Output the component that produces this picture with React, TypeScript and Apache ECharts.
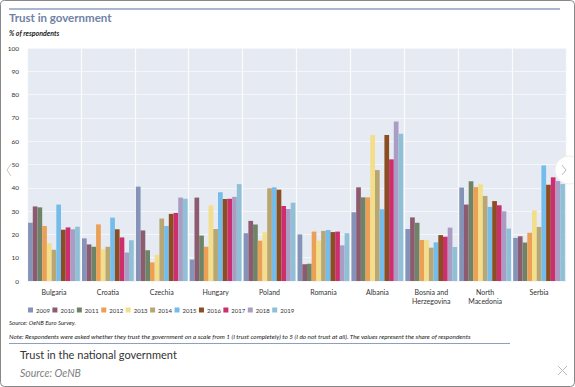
import React, { useEffect, useRef } from "react";
import * as echarts from "echarts";

const countries = [
  "Bulgaria",
  "Croatia",
  "Czechia",
  "Hungary",
  "Poland",
  "Romania",
  "Albania",
  "Bosnia and\nHerzegovina",
  "North\nMacedonia",
  "Serbia",
];

const years = ["2009", "2010", "2011", "2012", "2013", "2014", "2015", "2016", "2017", "2018", "2019"];

const yearColors = [
  "#8593b8",
  "#8d5b70",
  "#6e8466",
  "#eba055",
  "#f3de8a",
  "#b8a774",
  "#74bdea",
  "#8b4e22",
  "#cc2e6e",
  "#ab9cc4",
  "#8fc0d6",
];

// values per year, in country order
const v2009 = [25.0, 18.3, 40.5, 9.2, 20.5, 20.0, 29.5, 22.3, 40.1, 18.5];
const v2010 = [32.0, 15.7, 21.7, 35.8, 25.8, 7.2, 40.2, 27.3, 32.8, 19.2];
const v2011 = [31.6, 14.7, 13.2, 19.5, 24.2, 7.4, 35.9, 25.0, 42.8, 16.5];
const v2012 = [23.6, 24.3, 8.0, 14.7, 17.3, 21.2, 35.9, 17.6, 40.3, 20.7];
const v2013 = [16.2, 13.6, 11.2, 32.5, 20.9, 17.3, 62.7, 17.6, 41.5, 30.3];
const v2014 = [13.4, 14.7, 26.8, 22.3, 39.8, 21.5, 47.6, 14.3, 36.5, 23.2];
const v2015 = [32.8, 27.2, 23.6, 38.1, 40.2, 21.9, 30.8, 16.6, 31.8, 49.6];
const v2016 = [22.0, 22.2, 28.8, 35.2, 39.2, 21.0, 62.7, 19.7, 34.3, 41.3];
const v2017 = [23.0, 18.7, 29.2, 35.3, 32.2, 21.2, 52.2, 19.0, 32.5, 44.5];
const v2018 = [22.2, 12.2, 35.8, 36.1, 30.9, 15.3, 68.5, 22.9, 29.9, 42.9];
const v2019 = [23.3, 17.5, 35.3, 41.6, 33.6, 20.5, 63.2, 14.6, 22.5, 41.6];

const seriesValues = [v2009, v2010, v2011, v2012, v2013, v2014, v2015, v2016, v2017, v2018, v2019];

const yTicks = [0, 10, 20, 30, 40, 50, 60, 70, 80, 90, 100];

const FONT = "Lato, 'Open Sans', sans-serif";

export default function App() {
  const ref = useRef<HTMLDivElement>(null);

  useEffect(() => {
    document.body.style.margin = "0";
    document.body.style.background = "#ffffff";
    if (!ref.current) return;
    const chart = echarts.init(ref.current, null, { renderer: "svg" });

    const option: any = {
      animation: false,
      backgroundColor: "#ffffff",
      textStyle: { fontFamily: FONT },
      grid: {
        left: 27,
        right: 9,
        top: 48,
        bottom: 106,
        show: true,
        backgroundColor: "#e6eaf2",
        borderWidth: 0,
        containLabel: false,
      },
      legend: {
        data: years,
        left: 23,
        top: 302,
        itemWidth: 5,
        itemHeight: 5,
        itemGap: 2.5,
        icon: "rect",
        textStyle: { fontSize: 6, color: "#333", fontFamily: FONT, padding: [0, 0, 0, -2] },
      },
      xAxis: {
        type: "category",
        data: countries,
        axisLine: { show: false },
        axisTick: { show: false },
        splitLine: { show: true, lineStyle: { color: "#fafbfd", width: 1.2 } },
        axisLabel: {
          fontSize: 7,
          color: "#333",
          margin: 6,
          lineHeight: 9,
          fontFamily: FONT,
          interval: 0,
        },
      },
      yAxis: {
        type: "value",
        min: yTicks[0],
        max: yTicks[yTicks.length - 1],
        interval: 10,
        axisLine: { show: false },
        axisTick: { show: false },
        splitLine: { show: true, lineStyle: { color: "#f4f6fa", width: 1 } },
        axisLabel: { fontSize: 6.5, color: "#333", margin: 8, fontFamily: FONT },
      },
      series: years.map((y, i) => ({
        name: y,
        type: "bar",
        data: seriesValues[i],
        barGap: "0%",
        barCategoryGap: "4%",
        itemStyle: { color: yearColors[i] },
      })),
      graphic: [
        {
          type: "line",
          shape: { x1: 9, y1: 9, x2: 560, y2: 9 },
          style: { stroke: "#8ea0bf", lineWidth: 1.5 },
        },
        {
          type: "text",
          left: 9,
          top: 11,
          style: {
            text: "Trust in government",
            fill: "#6f82a6",
            font: `bold 11.5px ${FONT}`,
          },
        },
        {
          type: "text",
          left: 9,
          top: 29,
          style: {
            text: "% of respondents",
            fill: "#222",
            font: `italic bold 7px ${FONT}`,
          },
        },
        {
          type: "text",
          left: 9,
          top: 319,
          style: {
            text: "Source: OeNB Euro Survey.",
            fill: "#222",
            font: `italic 6px ${FONT}`,
          },
        },
        {
          type: "text",
          left: 9,
          top: 333,
          style: {
            text:
              "Note: Respondents were asked whether they trust the government on a scale from 1 (I trust completely) to 5 (I do not trust at all). The values represent the share of respondents",
            fill: "#222",
            font: `italic 6.4px ${FONT}`,
          },
        },
        {
          type: "line",
          shape: { x1: 9, y1: 343.5, x2: 510, y2: 343.5 },
          style: { stroke: "#8ea0bf", lineWidth: 1 },
        },
        {
          type: "text",
          left: 20,
          top: 349,
          style: {
            text: "Trust in the national government",
            fill: "#333",
            font: `11px ${FONT}`,
          },
        },
        {
          type: "text",
          left: 20,
          top: 367,
          style: {
            text: "Source: OeNB",
            fill: "#808080",
            font: `italic 10.5px ${FONT}`,
          },
        },
        {
          type: "line",
          shape: { x1: 558, y1: 366, x2: 567, y2: 375 },
          style: { stroke: "#bbb", lineWidth: 1 },
        },
        {
          type: "line",
          shape: { x1: 567, y1: 366, x2: 558, y2: 375 },
          style: { stroke: "#bbb", lineWidth: 1 },
        },
        {
          type: "polyline",
          shape: { points: [[11, 164], [7, 170], [11, 176]] },
          style: { stroke: "#c8c8c8", lineWidth: 1, fill: null },
        },
        {
          type: "circle",
          shape: { cx: 569, cy: 170, r: 14 },
          style: { fill: "#ffffff", stroke: "#eeeeee", lineWidth: 1 },
          z: 100,
        },
        {
          type: "polyline",
          shape: { points: [[562, 165], [566, 170], [562, 175]] },
          style: { stroke: "#bbb", lineWidth: 1, fill: null },
          z: 101,
        },
        {
          type: "rect",
          shape: { x: 0.5, y: 0.5, width: 574, height: 386, r: 4 },
          style: { stroke: "#888", lineWidth: 1, fill: null },
          z: 102,
        },
      ],
    };

    chart.setOption(option);
    return () => chart.dispose();
  }, []);

  return <div ref={ref} style={{ width: 575, height: 387 }} />;
}
